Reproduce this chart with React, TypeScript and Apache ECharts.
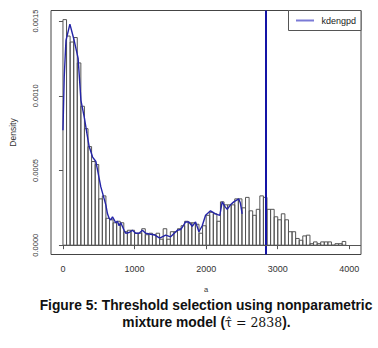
import React, { useEffect, useRef } from "react";
import * as echarts from "echarts";

// Histogram (density scale), bins of width 50 starting at 0
const binWidth = 50;
const binDensity = [
  0.00151, 0.0014, 0.00136, 0.00139, 0.00122, 0.00093, 0.00078, 0.00066, 0.00056, 0.00054,
  0.00031, 0.00033, 0.00018, 0.00017, 0.00015, 0.00016, 0.00015, 0.00009, 0.0001, 0.0001,
  0.00008, 0.00008, 0.00011, 0.00007, 0.00008, 0.00007, 0.00008, 0.00004, 0.00011, 0.00004,
  0.00009, 0.00009, 0.00011, 0.00013, 0.00016, 0.00015, 0.00015, 0.00014, 0.00008, 0.00013,
  0.0002, 0.00022, 0.00021, 0.00016, 0.00029, 0.00027, 0.00027, 0.00027, 0.00031, 0.00031,
  0.00025, 0.00032, 0.00023, 0.0002, 0.00024, 0.00033, 0.00032, 0.00024, 0.00024, 0.00019,
  0.00017, 0.00021, 0.00017, 0.00009, 0.00009, 0.000045, 0.000033, 0.000062, 0.000067, 0.00001,
  0.000022, 0.00001, 0.000022, 0.000022, 0.000022, 0, 0.00001, 0.00001, 0.000025,
];

// kdengpd fitted density (bulk part)
const kdeX = [
  0, 18, 42, 97, 157, 212, 251, 300, 334, 366, 414, 460, 529, 599, 622, 645, 668, 692, 738, 761,
  784, 808, 854, 877, 924, 970, 1017, 1063, 1110, 1156, 1202, 1272, 1341, 1365, 1435, 1504, 1598,
  1643, 1667, 1713, 1759, 1806, 1852, 1899, 1945, 1992, 2061, 2131, 2191, 2224, 2261, 2294, 2340,
  2386, 2456, 2479, 2503,
];
const kdeY = [
  0.00077, 0.00113, 0.00137, 0.00148, 0.00137, 0.00125, 0.00097, 0.00085, 0.00075, 0.00066,
  0.00059, 0.00056, 0.00039, 0.00027, 0.00021, 0.00018, 0.00017, 0.00019, 0.00015, 0.00016,
  0.00013, 0.00015, 0.0001, 0.00008, 0.000085, 0.0001, 0.00008, 0.00008, 0.0001, 0.00008,
  0.000075, 0.00007, 0.00005, 0.00005, 0.000067, 0.000056, 0.0001, 0.000105, 0.00012, 0.000156,
  0.000155, 0.000127, 0.000156, 0.00009, 0.00013, 0.0002, 0.00023, 0.00021, 0.0002, 0.00029,
  0.00026, 0.00024, 0.00027, 0.00029, 0.00031, 0.00028, 0.00021,
];

const seriesName = "kdengpd";
const threshold = 2838;
const xTicks = [0, 1000, 2000, 3000, 4000];
const yTicks = [0, 0.0005, 0.001, 0.0015];
const xRange = [-167, 4163];
const yRange = [-0.0000624, 0.001571];

export default function App() {
  const ref = useRef<HTMLDivElement>(null);
  useEffect(() => {
    if (!ref.current) return;
    const chart = echarts.init(ref.current, undefined, { renderer: "svg" });
    const histData = binDensity.map((d, i) => [i * binWidth, (i + 1) * binWidth, d]);
    const lineData = kdeX.map((x, i) => [x, kdeY[i]]);
    const font = "Liberation Sans, Arial, sans-serif";
    const legendColor = "#7a7ad6";
    chart.setOption({
      animation: false,
      backgroundColor: "#fff",
      grid: {
        left: 50,
        right: 17,
        top: 10.5,
        bottom: 93.5,
        show: true,
        borderColor: "#444",
        borderWidth: 1,
        backgroundColor: "transparent",
      },
      xAxis: {
        type: "value",
        min: xRange[0],
        max: xRange[1],
        name: "a",
        nameLocation: "middle",
        nameGap: 31,
        nameTextStyle: { fontFamily: font, fontSize: 7.5, color: "#333" },
        axisLine: { show: false },
        splitLine: { show: false },
        axisTick: { show: true, length: 4, lineStyle: { color: "#555" }, customValues: xTicks },
        axisLabel: {
          fontFamily: font,
          fontSize: 9,
          color: "#333",
          margin: 10,
          customValues: xTicks,
          formatter: (v: number) => String(v),
        },
      },
      yAxis: {
        type: "value",
        min: yRange[0],
        max: yRange[1],
        name: "Density",
        nameLocation: "middle",
        nameGap: 34,
        nameRotate: 90,
        nameTextStyle: { fontFamily: font, fontSize: 8.5, color: "#333" },
        axisLine: { show: false },
        splitLine: { show: false },
        axisTick: { show: true, length: 4, lineStyle: { color: "#555" }, customValues: yTicks },
        axisLabel: {
          fontFamily: font,
          fontSize: 7.5,
          color: "#333",
          rotate: 90,
          margin: 12,
          customValues: yTicks,
          formatter: (v: number) => v.toFixed(4),
        },
      },
      series: [
        {
          type: "custom",
          name: "hist",
          data: histData,
          encode: { x: [0, 1], y: 2 },
          z: 1,
          renderItem: (params: any, api: any) => {
            const p0 = api.coord([api.value(0), 0]);
            const p1 = api.coord([api.value(1), api.value(2)]);
            return {
              type: "rect",
              shape: { x: p0[0], y: p1[1], width: p1[0] - p0[0], height: p0[1] - p1[1] },
              style: { fill: "none", stroke: "#555", lineWidth: 1 },
            };
          },
        },
        {
          type: "line",
          name: seriesName,
          data: lineData,
          showSymbol: false,
          symbol: "none",
          z: 3,
          lineStyle: { color: "#2424a8", width: 1.4 },
          itemStyle: { color: "#2424a8" },
          markLine: {
            silent: true,
            symbol: "none",
            label: { show: false },
            data: [
              { xAxis: threshold, lineStyle: { color: "#1414a6", width: 2, type: "solid" } },
              [
                { coord: [0, 0], lineStyle: { color: "#555", width: 1, type: "solid" } },
                { coord: [xRange[1], 0] },
              ],
            ],
          },
        },
      ],
      graphic: [
        {
          type: "group",
          z: 100,
          children: [
            {
              type: "rect",
              shape: { x: 288.5, y: 10.5, width: 72.5, height: 20 },
              style: { fill: "#fff", stroke: "#555", lineWidth: 1 },
            },
            {
              type: "line",
              shape: { x1: 296, y1: 20.5, x2: 314, y2: 20.5 },
              style: { stroke: legendColor, lineWidth: 2 },
            },
            {
              type: "text",
              x: 321.5,
              y: 20.5,
              style: {
                text: seriesName,
                fontFamily: font,
                fontSize: 9,
                fill: "#222",
                verticalAlign: "middle",
              },
            },
          ],
        },
        {
          type: "text",
          x: 206,
          y: 298,
          style: {
            text: "Figure 5: Threshold selection using nonparametric",
            fontFamily: font,
            fontWeight: "bold",
            fontSize: 13.8,
            fill: "#111",
            align: "center",
          },
        },
        {
          type: "text",
          x: 206.5,
          y: 315,
          style: {
            text: "{b|mixture model (}{m|τ̂ = 2838}{b|).}",
            align: "center",
            rich: {
              b: { fontFamily: font, fontWeight: "bold", fontSize: 13.8, fill: "#111" },
              m: { fontFamily: "DejaVu Serif, Liberation Serif, serif", fontSize: 12.5, fill: "#111" },
            },
          },
        },
      ],
    });
    return () => chart.dispose();
  }, []);
  return (
    <div
      ref={ref}
      style={{ position: "absolute", left: 0, top: 0, width: 378, height: 348, background: "#fff" }}
    />
  );
}
